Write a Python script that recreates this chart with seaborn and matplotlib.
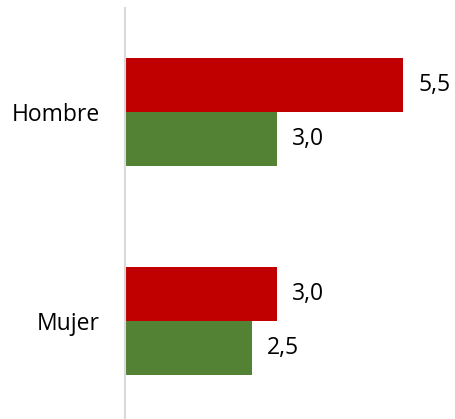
import matplotlib
matplotlib.use("Agg")
import matplotlib.pyplot as plt
import seaborn as sns
import pandas as pd

categories = ["Hombre", "Mujer"]
serie_roja = [5.5, 3.0]
serie_verde = [3.0, 2.5]
series_names = ["Serie 1", "Serie 2"]
colors = ["#C00000", "#548235"]

df = pd.DataFrame({
    "Categoria": categories * 2,
    "Valor": serie_roja + serie_verde,
    "Serie": [series_names[0]] * 2 + [series_names[1]] * 2,
})

sns.set_theme(style="white")
plt.rcParams["font.family"] = ["Open Sans", "DejaVu Sans"]

W, H = 456, 419
fig = plt.figure(figsize=(W / 100, H / 100), dpi=100)
left = 125 / W
ax = fig.add_axes([left, 0, 1 - left, (H - 8) / H])

sns.barplot(data=df, x="Valor", y="Categoria", hue="Serie", orient="h",
            palette=colors, saturation=1, width=0.52, linewidth=0, ax=ax,
            legend=False, errorbar=None)

ax.set_xlim(0, 331 / 50.6)
ax.set_ylim(1.5 - 6 / 208.5, -0.5)
ax.set_xlabel("")
ax.set_ylabel("")
ax.set_xticks([])
ax.tick_params(axis="y", length=0, pad=18, labelsize=16.5, labelcolor="#000000")
for s in ["top", "right", "bottom"]:
    ax.spines[s].set_visible(False)
ax.spines["left"].set_color("#D9D9D9")
ax.spines["left"].set_linewidth(1.5)

for cont in ax.containers:
    labels = [f"{b.get_width():.1f}".replace(".", ",") for b in cont]
    ax.bar_label(cont, labels=labels, padding=11, fontsize=16.5, color="#000000")

fig.savefig("out.png", dpi=100)
